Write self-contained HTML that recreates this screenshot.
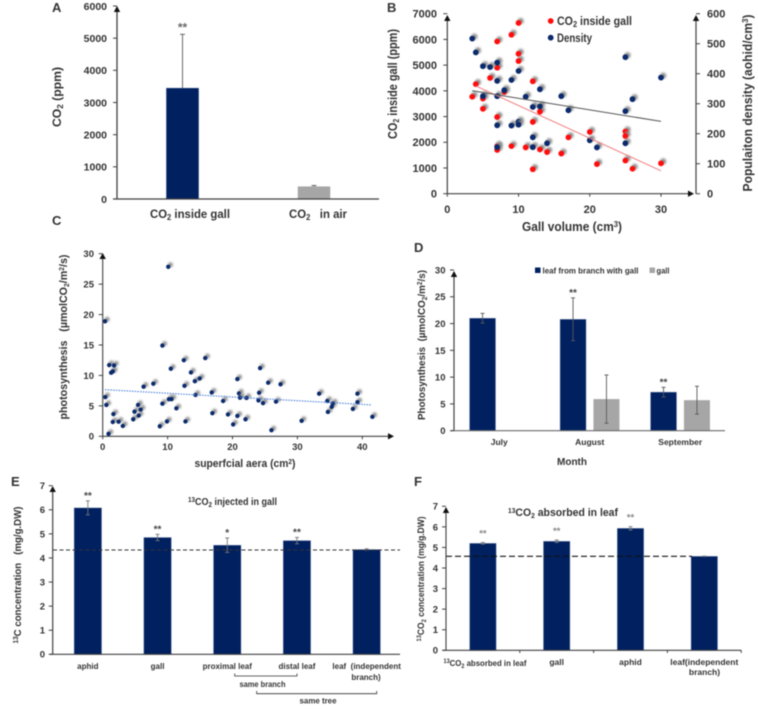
<!DOCTYPE html>
<html lang="en">
<head>
<meta charset="utf-8">
<title>Gall CO2 and photosynthesis figure</title>
<style>
html,body{margin:0;padding:0;background:#fff;}
body{width:758px;height:709px;overflow:hidden;}
svg{display:block;filter:blur(0.45px);}
text{font-family:"Liberation Sans",sans-serif;font-weight:bold;fill:#333;white-space:pre;}
</style>
</head>
<body>
<svg id="figure" xmlns="http://www.w3.org/2000/svg" width="758" height="709" viewBox="0 0 758 709">
<defs>
<filter id="soft" x="-100%" y="-100%" width="300%" height="300%"><feGaussianBlur stdDeviation="1.1"/></filter>
</defs>
<g id="layer"></g>

<g font-size="13">
<text x="52" y="12">A</text>
<text x="387" y="12">B</text>
<text x="52" y="225">C</text>
<text x="414" y="252">D</text>
<text x="11" y="486">E</text>
<text x="414" y="486">F</text>
</g>

<text transform="translate(61,97) rotate(-90)" text-anchor="middle" font-size="12" textLength="60">CO<tspan font-size="8" dy="2">2</tspan><tspan dy="-2"> (ppm)</tspan></text>
<text x="190" y="218" text-anchor="middle" font-size="12" textLength="80">CO<tspan font-size="8" dy="2">2</tspan><tspan dy="-2"> inside gall</tspan></text>
<text x="318" y="218" text-anchor="middle" font-size="12" textLength="58">CO<tspan font-size="8" dy="2">2</tspan><tspan dy="-2">   in air</tspan></text>

<text transform="translate(397,84) rotate(-90)" text-anchor="middle" font-size="12.5" textLength="110">CO<tspan font-size="8" dy="2">2</tspan><tspan dy="-2"> inside gall (ppm)</tspan></text>
<text transform="translate(752,103) rotate(-90)" text-anchor="middle" font-size="12.5" textLength="177">Populaiton density (aohid/cm<tspan font-size="8" dy="-4">3</tspan><tspan dy="4">)</tspan></text>
<text x="572" y="231" text-anchor="middle" font-size="12.5" textLength="100">Gall volume (cm<tspan font-size="8" dy="-4">3</tspan><tspan dy="4">)</tspan></text>
<text x="557" y="25" font-size="11.5" textLength="75">CO<tspan font-size="8" dy="2">2</tspan><tspan dy="-2"> inside gall</tspan></text>
<text x="557" y="42" font-size="11.5" textLength="35">Density</text>

<text transform="translate(67,337) rotate(-90)" text-anchor="middle" font-size="11" textLength="165">photosynthesis   (µmolCO<tspan font-size="7" dy="2">2</tspan><tspan dy="-2">/m</tspan><tspan font-size="7" dy="-3">2</tspan><tspan dy="3">/s)</tspan></text>
<text x="245" y="467" text-anchor="middle" font-size="11" textLength="101">superfcial aera (cm<tspan font-size="7" dy="-3">2</tspan><tspan dy="3">)</tspan></text>

<text transform="translate(425,345) rotate(-90)" text-anchor="middle" font-size="10.5" textLength="150">Photosynthesis  (µmolCO<tspan font-size="7" dy="2">2</tspan><tspan dy="-2">/m</tspan><tspan font-size="7" dy="-3">2</tspan><tspan dy="3">/s)</tspan></text>
<text x="542.5" y="273.5" font-size="8.5" textLength="96">leaf from branch with gall</text>
<text x="656.5" y="273.5" font-size="8.5" textLength="13">gall</text>
<text x="572" y="465" text-anchor="middle" font-size="10.5" textLength="30">Month</text>

<text transform="translate(21,575) rotate(-90)" text-anchor="middle" font-size="10.5" textLength="137"><tspan font-size="7" dy="-3">13</tspan><tspan dy="3">C concentration   (mg/g.DW)</tspan></text>
<text x="232.5" y="505" text-anchor="middle" font-size="10" textLength="89"><tspan font-size="7" dy="-3">13</tspan><tspan dy="3">CO</tspan><tspan font-size="7" dy="2">2</tspan><tspan dy="-2"> injected in gall</tspan></text>
<text x="262.5" y="687" text-anchor="middle" font-size="8" textLength="46">same branch</text>
<text x="318" y="703.5" text-anchor="middle" font-size="8" textLength="37">same tree</text>

<text transform="translate(424,579) rotate(-90)" text-anchor="middle" font-size="9.5" textLength="125"><tspan font-size="6.5" dy="-3">13</tspan><tspan dy="3">CO</tspan><tspan font-size="6.5" dy="2">2</tspan><tspan dy="-2"> concentration (mg/g.DW)</tspan></text>
<text x="563" y="516" text-anchor="middle" font-size="11" textLength="110"><tspan font-size="7" dy="-3">13</tspan><tspan dy="3">CO</tspan><tspan font-size="7" dy="2">2</tspan><tspan dy="-2"> absorbed in leaf</tspan></text>
<text x="485" y="666" text-anchor="middle" font-size="8.5" textLength="83"><tspan font-size="6" dy="-3">13</tspan><tspan dy="3">CO</tspan><tspan font-size="6" dy="2">2</tspan><tspan dy="-2"> absorbed in leaf</tspan></text>
</svg>

<script>
// Panel A
const aCategories = ['inside gall', 'in air'];
const aValues = [3450, 390];
const aErrors = [1670, 30];
const aTicks = [0, 1000, 2000, 3000, 4000, 5000, 6000];

// Panel B
const bRedX = [3.5, 4, 5, 5, 6, 7, 7, 7, 7, 7, 8, 9, 9, 10, 10, 10, 11, 12, 12, 12, 13, 13, 14, 16, 17, 20, 21, 25, 25, 25, 26, 30];
const bRedY = [3770, 4260, 3700, 3300, 4500, 5920, 4900, 2980, 1850, 1700, 3950, 6180, 1850, 6640, 5440, 5160, 1800, 4370, 2790, 950, 3190, 1720, 1620, 1560, 2190, 2400, 1150, 2420, 2240, 1290, 970, 1180];
const bDensityX = [3.5, 4, 5, 5, 6, 7, 7, 7, 7, 7, 8, 9, 9, 10, 10, 10, 11, 12, 12, 12, 13, 13, 14, 16, 17, 20, 21, 25, 25, 25, 26, 30];
const bDensityY = [517, 471, 425, 325, 422, 437, 376, 325, 228, 155, 345, 379, 227, 409, 240, 230, 323, 289, 188, 155, 348, 291, 168, 325, 278, 178, 154, 455, 275, 168, 315, 387];
const bRedTrendX = [4, 30];
const bRedTrendY = [4190, 890];
const bDensityTrendX = [3.5, 30];
const bDensityTrendY = [343, 241];
const bXTicks = [0, 10, 20, 30];
const bLeftTicks = [0, 1000, 2000, 3000, 4000, 5000, 6000, 7000];
const bRightTicks = [0, 100, 200, 300, 400, 500, 600];

// Panel C
const cX = [0.36, 0.4, 0.56, 0.9, 1, 1.3, 1.55, 1.75, 1.65, 1.55, 2.45, 3.1, 4.7, 4.9, 5.45, 5.55, 5.85, 6.3, 7.8, 8.8, 9.2, 9.2, 9.9, 10.1, 10.2, 10.6, 10.5, 11.35, 12.5, 12.6, 12.75, 13.6, 14.2, 14.3, 14.95, 15.8, 16.8, 16.9, 18.55, 19.3, 20.1, 20.75, 20.75, 21, 21.15, 22, 22.15, 24.1, 24, 24.25, 24.7, 25.5, 26, 26.7, 27.4, 30.65, 33.35, 34.6, 34.7, 35.3, 35.45, 38.55, 39.25, 39.25, 41.55];
const cY = [18.9, 6.45, 5.15, 0.4, 11.7, 10.45, 10.65, 11.65, 3.65, 2.35, 2.4, 1.7, 2.8, 4.05, 5.15, 3.4, 4.4, 8.15, 8.65, 1.65, 14.9, 5.35, 2.45, 27.85, 6.1, 6.1, 11.1, 4.6, 12.5, 8.3, 2.45, 10.5, 9.05, 6.8, 9.5, 12.85, 7.2, 3.8, 5.8, 3.6, 1.95, 9.4, 3.35, 7.05, 6.35, 2.8, 6.3, 7.15, 5.9, 11.2, 5.45, 8.8, 1, 5.7, 8.55, 2.55, 7, 5.8, 4, 4.85, 5.4, 4.5, 5.6, 7, 3.2];
const cTrendX = [0.36, 41.45];
const cTrendY = [7.66, 5.15];
const cXTicks = [0, 10, 20, 30, 40];
const cYTicks = [0, 5, 10, 15, 20, 25, 30];

// Panel D
const dCategories = ['July', 'August', 'September'];
const dLeaf = [21, 20.8, 7.2];
const dLeafErr = [0.9, 4, 0.9];
const dGall = [null, 5.9, 5.7];
const dGallErr = [null, 4.5, 2.6];
const dLeafStars = ['', '**', '**'];
const dTicks = [0, 5, 10, 15, 20, 25, 30];

// Panel E
const eCategories = ['aphid', 'gall', 'proximal leaf', 'distal leaf', 'leaf  (independent'];
const eValues = [6.08, 4.85, 4.53, 4.72, 4.35];
const eErrors = [0.29, 0.13, 0.3, 0.13, 0.03];
const eStars = ['**', '**', '*', '**', ''];
const eReference = [4.33];
const eTicks = [0, 1, 2, 3, 4, 5, 6, 7];

// Panel F
const fCategories = ['', 'gall', 'aphid', 'leaf(independent'];
const fValues = [5.2, 5.3, 5.93, 4.57];
const fErrors = [0.04, 0.06, 0.08, 0.01];
const fStars = ['**', '**', '**', ''];
const fReference = [4.57];
const fTicks = [0, 1, 2, 3, 4, 5, 6, 7];

const NS = 'http://www.w3.org/2000/svg';
const layer = document.getElementById('layer');
const NAVY = '#002060', GREY = '#a6a6a6', AXIS = '#404040';

document.querySelectorAll('text[textLength]').forEach(function (t) {
  t.setAttribute('lengthAdjust', 'spacingAndGlyphs');
});

function linear(d0, d1, r0, r1) {
  return function (v) { return r0 + (v - d0) * (r1 - r0) / (d1 - d0); };
}
function mk(tag, props) {
  const e = document.createElementNS(NS, tag);
  for (const k in props) e.setAttribute(k, props[k]);
  layer.appendChild(e);
  return e;
}
function line(x1, y1, x2, y2, stroke, width, name, dash) {
  const e = mk('line', { x1: x1, y1: y1, x2: x2, y2: y2, stroke: stroke, 'stroke-width': width });
  if (dash) e.setAttribute('stroke-dasharray', dash);
  
  
  return e;
}
function label(x, y, str, size, anchor, name, fill) {
  const e = mk('text', { x: x, y: y, 'font-size': size, 'text-anchor': anchor });
  if (fill) e.style.fill = fill;
  e.textContent = str;
  
  
  return e;
}
function arrow(x, y, dir, name) {
  const pts = dir === 'up'
    ? [[x - 3.2, y + 6], [x + 3.2, y + 6], [x, y]]
    : [[x - 6, y - 3.2], [x - 6, y + 3.2], [x, y]];
  const e = mk('polygon', { points: pts.map(function (p) { return p.join(','); }).join(' '), fill: '#111' });
  
  
}
function yAxis(x, ticks, scale, size, labelX, prefix, side) {
  ticks.forEach(function (t) {
    const y = scale(t);
    line(side === 'right' ? x : x - 4, y, side === 'right' ? x + 4 : x, y, AXIS, 1, prefix + '-tick-' + t);
    label(labelX, y + size * 0.36, String(t), size, side === 'right' ? 'start' : 'end', prefix + '-tick-label-' + t);
  });
}
function xAxisNumeric(y, ticks, scale, size, labelY, prefix) {
  ticks.forEach(function (t) {
    line(scale(t), y, scale(t), y + 3, AXIS, 1, prefix + '-tick-' + t);
    label(scale(t), labelY, String(t), size, 'middle', prefix + '-tick-label-' + t);
  });
}
function bar(cx, width, value, scale, color, name) {
  const e = mk('rect', { x: cx - width / 2, y: scale(value), width: width, height: scale(0) - scale(value), fill: color, stroke: '#8496b8', 'stroke-opacity': color === NAVY ? 0.6 : 0, 'stroke-width': 0.6 });
  
  
}
function errorBar(cx, low, high, scale, name, color) {
  const c = color || '#595959';
  line(cx, scale(low), cx, scale(high), c, 0.9, name);
  line(cx - 2, scale(high), cx + 2, scale(high), c, 0.9, name + '-cap-top');
  line(cx - 2, scale(low), cx + 2, scale(low), c, 0.9, name + '-cap-bottom');
}
function dot(cx, cy, r, color, shadowR, name) {
  const s = mk('circle', { cx: cx + 2.2, cy: cy - 2, r: shadowR, fill: '#8c8c8c', filter: 'url(#soft)' });
  
  
  const d = mk('circle', { cx: cx, cy: cy, r: r, fill: color });
  
  
}

/* Panel A */
(function () {
  const y = linear(0, 6000, 199, 6);
  const xs = [182.5, 314];
  const colors = [NAVY, GREY];
  aCategories.forEach(function (c, i) {
    bar(xs[i], 32.5, aValues[i], y, colors[i], 'a-bar-' + i);
    line(xs[i], y(aValues[i]), xs[i], y(aValues[i] + aErrors[i]), '#595959', 0.9, 'a-error-bar-' + i);
    line(xs[i] - 2.5, y(aValues[i] + aErrors[i]), xs[i] + 2.5, y(aValues[i] + aErrors[i]), '#595959', 0.9, 'a-error-cap-' + i);
  });
  label(xs[0], y(aValues[0] + aErrors[0]) - 3, '**', 12, 'middle', 'a-significance', '#666');
  line(117, 199, 117, 7, AXIS, 1.3, 'a-y-axis');
  line(113, 199, 379, 199, AXIS, 1.3, 'a-x-axis');
  arrow(117, 6, 'up', 'a-y-arrow');
  yAxis(117, aTicks, y, 10.5, 107, 'a-y', 'left');
})();

/* Panel B */
(function () {
  const x = linear(0, 30, 447.3, 661);
  const yL = linear(0, 7000, 193.7, 13.7);
  const yR = linear(0, 600, 193.7, 13.7);
  bRedX.forEach(function (v, i) { dot(x(v), yL(bRedY[i]), 2.9, '#ff0d0d', 3, 'b-red-point-' + i); });
  bDensityX.forEach(function (v, i) { dot(x(v), yR(bDensityY[i]), 2.9, '#0a2a6c', 3, 'b-density-point-' + i); });
  line(x(bRedTrendX[0]), yL(bRedTrendY[0]), x(bRedTrendX[1]), yL(bRedTrendY[1]), '#f08080', 1, 'b-red-trendline');
  line(x(bDensityTrendX[0]), yR(bDensityTrendY[0]), x(bDensityTrendX[1]), yR(bDensityTrendY[1]), '#555', 1, 'b-density-trendline');
  line(447.3, 193.7, 447.3, 18, AXIS, 1.2, 'b-left-axis');
  line(696, 193.7, 696, 18, AXIS, 1.2, 'b-right-axis');
  line(447.3, 193.7, 690, 193.7, AXIS, 1.2, 'b-x-axis');
  arrow(447.3, 15, 'up', 'b-left-arrow');
  arrow(696, 15, 'up', 'b-right-arrow');
  arrow(694, 193.7, 'right', 'b-x-arrow');
  yAxis(447.3, bLeftTicks, yL, 11, 437, 'b-left', 'left');
  yAxis(696, bRightTicks, yR, 11, 707, 'b-right', 'right');
  xAxisNumeric(193.7, bXTicks, x, 11, 213, 'b-x');
  dot(550.7, 21, 2.9, '#ff0d0d', 0.1, 'b-legend-red-dot');
  dot(550.7, 37.7, 2.9, '#0a2a6c', 0.1, 'b-legend-density-dot');
})();

/* Panel C */
(function () {
  const x = linear(0, 40, 102.7, 362.3);
  const y = linear(0, 30, 436.3, 253.7);
  cX.forEach(function (v, i) { dot(x(v), y(cY[i]), 2.2, '#0a2a6c', 2.4, 'c-point-' + i); });
  line(x(cTrendX[0]), y(cTrendY[0]), x(cTrendX[1]), y(cTrendY[1]), '#4a7fd8', 1.1, 'c-trendline', '1.5 1.2');
  line(102.7, 436.3, 102.7, 258, AXIS, 1.1, 'c-y-axis');
  line(102.7, 436.3, 390, 436.3, AXIS, 1.1, 'c-x-axis');
  arrow(102.7, 253, 'up', 'c-y-arrow');
  arrow(394, 436.3, 'right', 'c-x-arrow');
  yAxis(102.7, cYTicks, y, 9.5, 94, 'c-y', 'left');
  xAxisNumeric(436.3, cXTicks, x, 9.5, 450, 'c-x');
})();

/* Panel D */
(function () {
  const band = 90.5, x0 = 454;
  const y = linear(0, 30, 430.7, 270);
  dCategories.forEach(function (c, i) {
    const cx = x0 + band * (i + 0.5);
    bar(cx - 16.7, 26, dLeaf[i], y, NAVY, 'd-leaf-bar-' + c);
    errorBar(cx - 16.7, dLeaf[i] - dLeafErr[i], dLeaf[i] + dLeafErr[i], y, 'd-leaf-error-' + c);
    if (dLeafStars[i]) label(cx - 16.7, y(dLeaf[i] + dLeafErr[i]) - 2, dLeafStars[i], 10, 'middle', 'd-significance-' + c, '#444');
    if (dGall[i] !== null) {
      bar(cx + 16.7, 26, dGall[i], y, GREY, 'd-gall-bar-' + c);
      errorBar(cx + 16.7, dGall[i] - dGallErr[i], dGall[i] + dGallErr[i], y, 'd-gall-error-' + c);
    }
    label(cx, 445, c, 8.5, 'middle', 'd-x-label-' + c);
  });
  line(454, 430.7, 454, 274, AXIS, 1.2, 'd-y-axis');
  line(451, 430.7, 725, 430.7, '#6b6b6b', 1.2, 'd-x-axis');
  arrow(454, 271, 'up', 'd-y-arrow');
  yAxis(454, dTicks, y, 9.5, 445.5, 'd-y', 'left');
  const a = mk('rect', { x: 535, y: 267.5, width: 5.5, height: 5.5, fill: NAVY });
  
  
  const b = mk('rect', { x: 649.5, y: 267.5, width: 5.5, height: 5.5, fill: GREY });
  
  
})();

/* Panel E */
(function () {
  const band = 69.7, x0 = 53;
  const y = linear(0, 7, 654.3, 485.7);
  eCategories.forEach(function (c, i) {
    const cx = x0 + band * (i + 0.5);
    bar(cx, 27.5, eValues[i], y, NAVY, 'e-bar-' + i);
    errorBar(cx, eValues[i] - eErrors[i], eValues[i] + eErrors[i], y, 'e-error-' + i, '#777');
    if (eStars[i]) label(cx, y(eValues[i] + eErrors[i]) - 2, eStars[i], 10, 'middle', 'e-significance-' + i, '#444');
    label(cx, 669, c, 8, 'middle', 'e-x-label-' + i);
  });
  label(366, 680, 'branch)', 8, 'middle', 'e-x-label-branch');
  line(53, y(eReference[0]), 400, y(eReference[0]), '#333', 1, 'e-reference-line', '4 2.5');
  line(52.7, 654.3, 52.7, 490, AXIS, 1.2, 'e-y-axis');
  line(50, 654.3, 400, 654.3, AXIS, 1.2, 'e-x-axis');
  arrow(52.7, 486, 'up', 'e-y-arrow');
  yAxis(52.7, eTicks, y, 9.5, 45, 'e-y', 'left');
  const p1 = mk('path', { d: 'M234.7 673.5V676H297V673.5', fill: 'none', stroke: '#333', 'stroke-width': 0.8 });
  
  
  const p2 = mk('path', { d: 'M256.7 691V693.7H376.7V691', fill: 'none', stroke: '#333', 'stroke-width': 0.8 });
  
  
})();

/* Panel F */
(function () {
  const band = 73.8, x0 = 446;
  const y = linear(0, 7, 650.3, 506.3);
  fCategories.forEach(function (c, i) {
    const cx = x0 + band * (i + 0.5);
    bar(cx, 26.5, fValues[i], y, NAVY, 'f-bar-' + i);
    errorBar(cx, fValues[i] - fErrors[i], fValues[i] + fErrors[i], y, 'f-error-' + i, '#777');
    if (fStars[i]) label(cx, y(fValues[i] + fErrors[i]) - 6, fStars[i], 9.5, 'middle', 'f-significance-' + i, '#888');
    if (c) label(cx, 665, c, 8.5, 'middle', 'f-x-label-' + i);
    line(x0 + band * (i + 1), 650.3, x0 + band * (i + 1), 653, AXIS, 1, 'f-x-tick-' + i);
  });
  label(704.5, 675, 'branch)', 8.5, 'middle', 'f-x-label-branch');
  line(446, y(fReference[0]), 692, y(fReference[0]), '#111', 1.1, 'f-reference-line', '6 3');
  line(446, 650.3, 446, 511, AXIS, 1.1, 'f-y-axis');
  line(443, 650.3, 741.3, 650.3, AXIS, 1.1, 'f-x-axis');
  arrow(446, 507, 'up', 'f-y-arrow');
  yAxis(446, fTicks, y, 9.5, 438, 'f-y', 'left');
})();
</script>
</body>
</html>
